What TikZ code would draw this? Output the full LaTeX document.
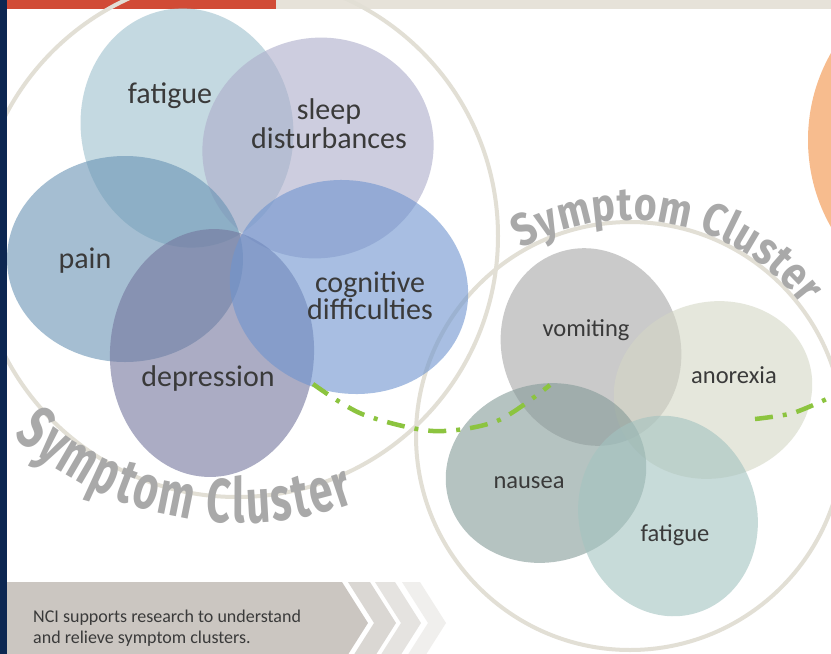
\documentclass[tikz,border=0pt]{standalone}
\usepackage{fontspec}
\setmainfont{Carlito}
\newfontfamily\clfontR[FakeStretch=0.85]{Fira Sans}
\newfontfamily\clfontL[FakeStretch=0.68]{Fira Sans}
\usetikzlibrary{decorations.text}
\definecolor{navy}{HTML}{0C2752}
\definecolor{topred}{HTML}{D14B36}
\definecolor{topbeige}{HTML}{E6E2D9}
\definecolor{ringc}{HTML}{E2DFD5}
\definecolor{peach}{HTML}{F7BC8E}
\definecolor{labelgrey}{HTML}{3A3A3A}
\definecolor{clgrey}{HTML}{A9A9A9}
\definecolor{dashgreen}{HTML}{8CC43F}
\definecolor{fatL}{HTML}{9EC1CD}
\definecolor{sleepc}{HTML}{ADADCA}
\definecolor{painc}{HTML}{6994B4}
\definecolor{deprc}{HTML}{73769D}
\definecolor{cognc}{HTML}{6E94CF}
\definecolor{vomc}{HTML}{A8A8A8}
\definecolor{anoc}{HTML}{D4D7C5}
\definecolor{nauc}{HTML}{859B98}
\definecolor{fatR}{HTML}{A3C3C0}
\definecolor{bannerc}{HTML}{CBC6C1}
\definecolor{chevA}{HTML}{DAD7D3}
\definecolor{chevB}{HTML}{E5E3E0}
\definecolor{chevC}{HTML}{F0EFED}
\begin{document}
\begin{tikzpicture}[x=1pt,y=-1pt,
  lbl/.style={text=labelgrey, font=\fontsize{30}{30}\selectfont, inner sep=0pt, anchor=base},
  lblR/.style={lbl, font=\fontsize{24.5}{24.5}\selectfont},
  ring/.style={draw=ringc, line width=4pt},
  blob/.style={fill opacity=0.6},
  greenline/.style={draw=dashgreen, line width=4.5pt, dash pattern=on 18pt off 10pt on 4pt off 10pt},
  cltext/.style={decorate}
]
\useasboundingbox (0,0) rectangle (831,654);
\clip (0,0) rectangle (831,654);
\fill[white] (0,0) rectangle (831,654);

% top strips
\fill[topred] (7,0) rectangle (276,9);
\fill[topbeige] (276,0) rectangle (831,9);

% orange circle at right
\fill[peach] (984,140) circle[radius=176pt];

% cluster rings
\coordinate (LC) at (237,236);
\coordinate (RC) at (630,436);
\draw[ring] (LC) circle[radius=261pt];
\draw[ring] (RC) circle[radius=214pt];

% left cluster ellipses
\fill[fatL, blob, rotate around={10:(187,128)}] (187,128) ellipse[x radius=106pt, y radius=120pt];
\fill[sleepc, blob, rotate around={15:(318,148)}] (318,148) ellipse[x radius=116pt, y radius=110pt];
\fill[painc, blob] (125,259) ellipse[x radius=118pt, y radius=103pt];
\fill[deprc, blob, rotate around={-3:(212,353)}] (212,353) ellipse[x radius=102pt, y radius=124pt];
\fill[cognc, blob, rotate around={-15:(349,287)}] (349,287) ellipse[x radius=120pt, y radius=106pt];

% right cluster ellipses
\fill[vomc, blob, rotate around={20:(591,347)}] (591,347) ellipse[x radius=89pt, y radius=100pt];
\fill[anoc, blob, rotate around={15:(713,390)}] (713,390) ellipse[x radius=100pt, y radius=88pt];
\fill[nauc, blob, rotate around={15:(546,473)}] (546,473) ellipse[x radius=101pt, y radius=89pt];
\fill[fatR, blob, rotate around={15:(668,516)}] (668,516) ellipse[x radius=89pt, y radius=101pt];

% green dash-dot link
\draw[greenline] plot[smooth] coordinates {(313,384) (362,414) (433,431) (497,421) (550,385)};
\draw[greenline] plot[smooth] coordinates {(755,419) (793,413) (831,397)};

% labels left
\node[lbl] (fatigueL) at (170,103) {fatigue};
\node[lbl] (sleep1) at (329,119) {sleep};
\node[lbl] (sleep2) at (329,148) {disturbances};
\node[lbl] (pain) at (85,268) {pain};
\node[lbl] (cog1) at (370,292) {cognitive};
\node[lbl] (cog2) at (370,319) {difficulties};
\node[lbl] (depr) at (208,386) {depression};

% labels right
\node[lblR] (vomit) at (586,336) {vomiting};
\node[lblR] (anor) at (734,383) {anorexia};
\node[lblR] (naus) at (529,488) {nausea};
\node[lblR] (fatigueR) at (675,541) {fatigue};

% curved titles
\path[cltext, decoration={text along path, text align=fit to path,
  text={|\clfontL\bfseries\fontsize{62}{62}\selectfont\color{clgrey}|Symptom Cluster}}]
  (240,185) ++(228:338pt) arc[start angle=228, end angle=290, radius=338pt];
\path[cltext, decoration={text along path, text align=fit to path,
  text={|\clfontR\bfseries\fontsize{46}{46}\selectfont\color{clgrey}|Symptom Cluster}}]
  (RC) ++(120:216pt) arc[start angle=120, end angle=37, radius=216pt];

% bottom banner
\fill[bannerc] (7,582) -- (342,582) -- (368,623) -- (342,664) -- (7,664) -- cycle;
\fill[chevA] (348,582) -- (370,582) -- (396,623) -- (370,664) -- (348,664) -- (374,623) -- cycle;
\fill[chevB] (375,582) -- (395,582) -- (421,623) -- (395,664) -- (375,664) -- (401,623) -- cycle;
\fill[chevC] (402,582) -- (420,582) -- (446,623) -- (420,664) -- (402,664) -- (428,623) -- cycle;
\node[text=labelgrey, font=\fontsize{18}{18}\selectfont, inner sep=0pt, anchor=base west] (ban1) at (33,622) {NCI supports research to understand};
\node[text=labelgrey, font=\fontsize{18}{18}\selectfont, inner sep=0pt, anchor=base west] (ban2) at (33,643) {and relieve symptom clusters.};

% navy side bar
\fill[navy] (0,0) rectangle (7,654);
\end{tikzpicture}
\end{document}
